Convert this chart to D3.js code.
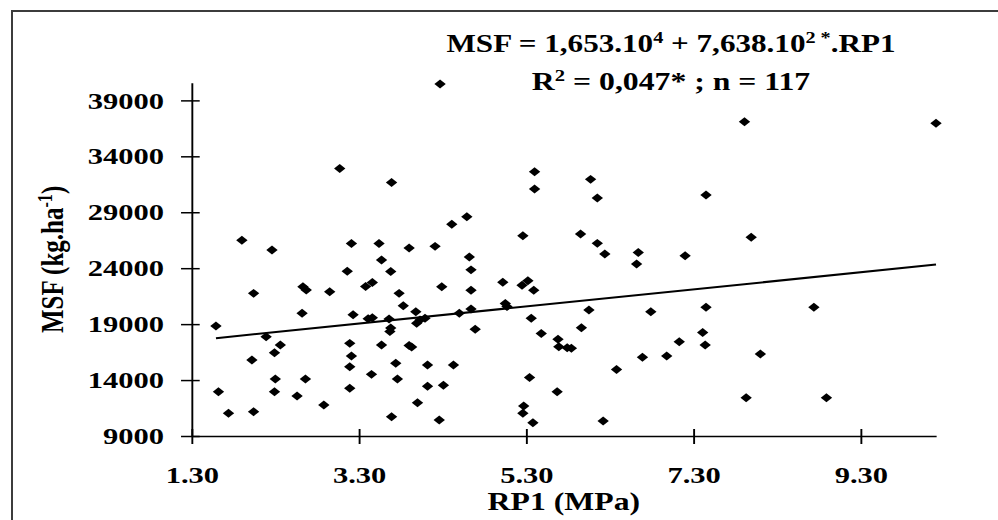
<!DOCTYPE html>
<html>
<head>
<meta charset="utf-8">
<script src="https://cdn.jsdelivr.net/npm/d3@7"></script>
<style>
    body { margin: 0; background: #fff; }
    svg { display: block; }
</style>
</head>
<body>
<div id="main"></div>
<script>

// Data
const rp1 = [4.27, 3.07, 3.69, 1.90, 2.26, 3.21, 3.54, 3.90, 4.21, 3.57,
    3.16, 3.68, 2.04, 2.63, 2.67, 2.95, 3.38, 3.46, 3.78, 4.29,
    3.83, 3.98, 1.59, 2.62, 3.23, 3.41, 3.46, 3.66, 3.67, 3.99,
    4.03, 4.09, 2.19, 2.36, 2.29, 2.02, 3.19, 3.21, 3.19, 3.57,
    3.90, 3.93, 3.74, 4.12, 1.62, 2.30, 2.66, 2.29, 2.56, 3.19,
    3.45, 3.76, 4.12, 2.88, 1.74, 2.04, 3.69, 4.00, 4.26, 4.41,
    4.59, 5.40, 5.40, 6.07, 6.15, 5.26, 5.95, 6.15, 6.24, 6.64,
    4.62, 6.62, 4.64, 4.64, 5.02, 5.25, 5.32, 5.39, 5.05, 5.07,
    4.64, 4.50, 4.69, 5.36, 5.48, 6.05, 5.96, 5.68, 5.69, 5.79,
    5.84, 6.79, 6.69, 6.98, 6.38, 4.43, 4.31, 5.34, 5.67, 5.27,
    5.26, 5.38, 6.22, 7.91, 10.20, 7.45, 7.99, 7.20, 7.45, 8.74,
    7.41, 7.13, 7.44, 8.10, 7.93, 8.89, 3.68];

const msf = [40460, 32910, 31660, 26490, 25620, 26200, 26200, 25800, 25950, 24730,
    23720, 23700, 21750, 22340, 22050, 21900, 22360, 22720, 21750, 22340,
    20650, 20110, 18830, 19970, 19830, 19480, 19570, 19460, 18340, 19070,
    19370, 19520, 17870, 17130, 16440, 15790, 17280, 16150, 15190, 17130,
    17090, 16950, 15500, 15350, 12960, 14090, 14090, 12960, 12570, 13260,
    14510, 14090, 13440, 11770, 11030, 11170, 10720, 11980, 10430, 27920,
    28600, 32620, 31070, 31940, 30270, 26900, 27050, 26220, 25270, 25400,
    25000, 24370, 23850, 22020, 22740, 22470, 22880, 22020, 20840, 20570,
    20350, 19970, 18540, 19520, 18160, 20260, 18680, 17640, 16980, 16890,
    16840, 20110, 16040, 16150, 14940, 15350, 13530, 14230, 12950, 11680,
    11030, 10190, 10340, 37090, 36950, 30540, 26760, 25110, 20500, 20500,
    18250, 17430, 17130, 16330, 12420, 12420, 18650];

const xTicks = [1.3, 3.3, 5.3, 7.3, 9.3];
const yTicks = [9000, 14000, 19000, 24000, 29000, 34000, 39000];

// Fitted line MSF = 1,653.10^4 + 7,638.10^2 * RP1
const intercept = 16530;
const slope = 763.8;

// Dimensions
const w = 998;
const h = 520;
const sx = 1.27; // the source picture is stretched sideways
const pLeft = 191.7 / sx;
const pRight = 936 / sx;
const pTop = 82.7;
const pBottom = 436;
const font = "'Liberation Serif', 'Times New Roman', serif";

const svg = d3.select('#main')
    .append('svg')
    .attr('width', w)
    .attr('height', h)
    .style('background-color', '#fff');

// Frame round the chart
svg.append('path')
    .attr('d', 'M12,530V11H1000')
    .attr('fill', 'none')
    .attr('stroke', '#3c3c3c')
    .attr('stroke-width', 2);

const g = svg.append('g')
    .attr('transform', `scale(${sx},1)`);

// Scales
const xScale = d3.scaleLinear()
    .domain([1.3, 10.2])
    .range([pLeft, pRight]);

const yScale = d3.scaleLinear()
    .domain([9000, 40580])
    .range([pBottom, pTop]);

// Axis
const xAxis = d3.axisBottom(xScale)
    .tickValues(xTicks)
    .tickFormat(d3.format('.2f'))
    .tickSize(8)
    .tickSizeOuter(0)
    .tickPadding(22);

const yAxis = d3.axisLeft(yScale)
    .tickValues(yTicks)
    .tickFormat(d3.format('d'))
    .tickSize(8.4)
    .tickSizeOuter(0)
    .tickPadding(13.4);

const gx = g.append('g')
    .attr('transform', `translate(0, ${pBottom})`)
    .call(xAxis);

const gy = g.append('g')
    .attr('transform', `translate(${pLeft}, 0)`)
    .call(yAxis);

[gx, gy].forEach((ax) => {
    ax.attr('font-family', font)
        .attr('font-size', 24)
        .attr('font-weight', 'bold');
    ax.selectAll('path, line')
        .attr('stroke', '#000')
        .attr('stroke-width', 1.5);
    ax.selectAll('text').attr('fill', '#000');
});

// ticks cross the axis line
gx.selectAll('.tick line').attr('y1', -7);
gy.selectAll('.tick line').attr('x1', 6.3);

// Trend line
const xs = d3.extent(rp1);
const line = d3.line()
    .x((d) => xScale(d))
    .y((d) => yScale(intercept + slope * d));

g.append('path')
    .datum(xs)
    .attr('d', line)
    .attr('fill', 'none')
    .attr('stroke', '#000')
    .attr('stroke-width', 2);

// Points
g.selectAll('.pt')
    .data(d3.range(rp1.length))
    .enter()
    .append('path')
    .attr('class', 'pt')
    .attr('d', d3.symbol(d3.symbolSquare, 40))
    .attr('transform', (i) => `translate(${xScale(rp1[i])},${yScale(msf[i])}) rotate(45)`)
    .attr('fill', '#000');

// Texts
function addText(x, y, parts, size, anchor, rotate) {
    const t = g.append('text')
        .attr('transform', `translate(${x},${y})` + (rotate ? ` rotate(${rotate})` : ''))
        .attr('text-anchor', anchor)
        .attr('font-family', font)
        .attr('font-weight', 'bold')
        .attr('font-size', size)
        .attr('fill', '#000');
    let up = false;
    parts.forEach((p) => {
        const sup = Array.isArray(p);
        const s = t.append('tspan').text(sup ? p[0] : p);
        if (sup) {
            s.attr('font-size', size * 0.65).attr('dy', -size * 0.36);
            up = true;
        } else if (up) {
            s.attr('dy', size * 0.36);
            up = false;
        }
    });
    return t;
}

addText(671 / sx, 51.5, ['MSF = 1,653.10', ['4'], ' + 7,638.10', ['2 *'], '.RP1'], 24.5, 'middle');
addText(671 / sx, 90, ['R', ['2'], ' = 0,047* ; n = 117'], 25, 'middle');
addText((pLeft + pRight) / 2, 510, ['RP1 (MPa)'], 25, 'middle');
addText(63.3 / sx, (pTop + pBottom) / 2, ['MSF (kg.ha', ['-1'], ')'], 25, 'middle', -90);

</script>
</body>
</html>
